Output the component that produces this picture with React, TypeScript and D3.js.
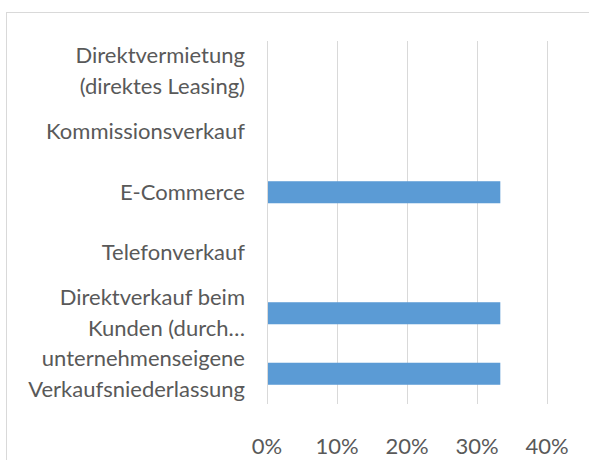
import React from "react";
import * as d3 from "d3";

const categories: string[][] = [
  ["Direktvermietung", "(direktes Leasing)"],
  ["Kommissionsverkauf"],
  ["E-Commerce"],
  ["Telefonverkauf"],
  ["Direktverkauf beim", "Kunden (durch…"],
  ["unternehmenseigene", "Verkaufsniederlassung"],
];
const values: number[] = [0, 0, 0.3333, 0, 0.3333, 0.3333];
const ticks: number[] = [0, 0.1, 0.2, 0.3, 0.4];

const W = 589;
const H = 460;
const FONT = "Lato, 'Open Sans', sans-serif";
const TEXT = "#595959";
const GRID = "#d9d9d9";
const BAR = "#5b9bd5";

export default function App() {
  const keys = categories.map((c) => c.join(" "));
  const x = d3.scaleLinear().domain([0, 0.4]).range([267, 547]);
  const y = d3
    .scaleBand<string>()
    .domain(keys)
    .range([41, 404])
    .paddingInner(0.636)
    .paddingOuter(0.318);
  const fmt = d3.format(".0%");
  const lineH = 31;

  return (
    <svg
      width={W}
      height={H}
      style={{ position: "absolute", left: 0, top: 0, background: "#fff" }}
    >
      <rect x={6.5} y={12.5} width={620} height={500} fill="#fff" stroke={GRID} />
      {ticks.map((t) => (
        <line
          key={"g" + t}
          x1={Math.round(x(t)) + 0.5}
          x2={Math.round(x(t)) + 0.5}
          y1={41}
          y2={404}
          stroke={GRID}
          strokeWidth={1}
        />
      ))}
      {values.map((v, i) =>
        v > 0 ? (
          <rect
            key={"b" + i}
            x={x(0) + 1}
            y={y(keys[i])!}
            width={x(v) - x(0) - 1}
            height={y.bandwidth()}
            fill={BAR}
          />
        ) : null
      )}
      {categories.map((lines, i) => {
        const cy = y(keys[i])! + y.bandwidth() / 2;
        const top = cy - ((lines.length - 1) * lineH) / 2;
        return (
          <text
            key={"c" + i}
            textAnchor="end"
            fontFamily={FONT}
            fontSize={22}
            fill={TEXT}
          >
            {lines.map((l, j) => (
              <tspan key={j} x={245} y={top + j * lineH} dy="0.35em">
                {l}
              </tspan>
            ))}
          </text>
        );
      })}
      {ticks.map((t) => (
        <text
          key={"t" + t}
          x={x(t)}
          y={446}
          dy="0.35em"
          textAnchor="middle"
          fontFamily={FONT}
          fontSize={22}
          fill={TEXT}
        >
          {fmt(t)}
        </text>
      ))}
    </svg>
  );
}
